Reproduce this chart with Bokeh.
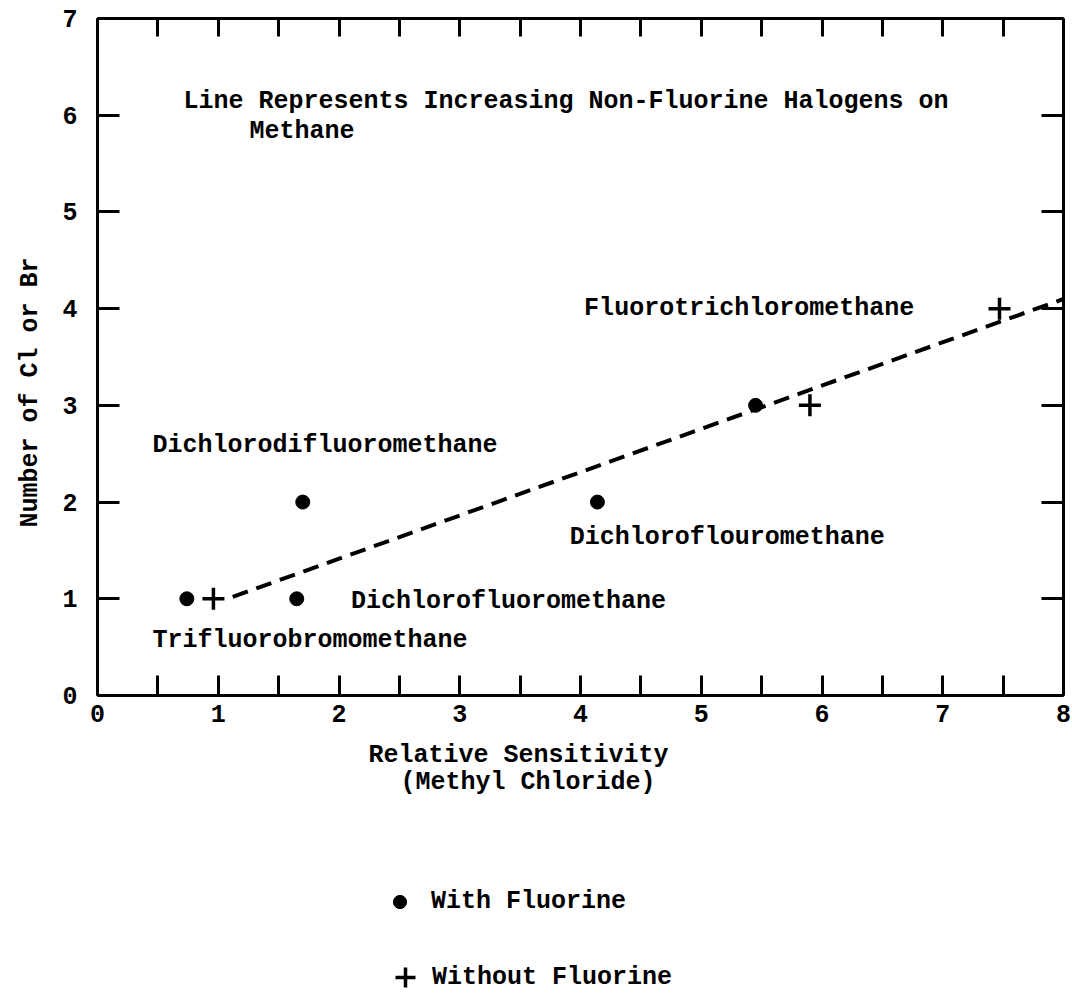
from bokeh.plotting import figure
from bokeh.layouts import column
from bokeh.models import Range1d, LinearAxis, FixedTicker, Label, Legend, LegendItem, Title
from bokeh.embed import file_html
from bokeh.resources import INLINE

# ---- data ----
x_ticks = [0, 1, 2, 3, 4, 5, 6, 7, 8]
x_minor_ticks = [0.5, 1.5, 2.5, 3.5, 4.5, 5.5, 6.5, 7.5]
x_all_ticks = [0, 0.5, 1, 1.5, 2, 2.5, 3, 3.5, 4, 4.5, 5, 5.5, 6, 6.5, 7, 7.5, 8]
y_ticks = [0, 1, 2, 3, 4, 5, 6, 7]

with_fluorine_x = [0.74, 1.65, 1.70, 4.14, 5.45]
with_fluorine_y = [1, 1, 2, 2, 3]
without_fluorine_x = [0.96, 5.90, 7.47]
without_fluorine_y = [1, 3, 4]
trend_x = [1.12, 8.0]
trend_y = [1.02, 4.10]

FONT = "Liberation Mono"
FS = "25px"
STYLE = "bold"

W = 1072
H_MAIN = 735
H_LEG = 261
FRAME_L = 97
FRAME_R = 1063

fig = figure(width=W, height=H_MAIN, x_range=Range1d(0, 8), y_range=Range1d(0, 7),
             output_backend="svg", toolbar_location=None,
             min_border_left=FRAME_L, min_border_right=W - FRAME_R, min_border_top=18,
             min_border_bottom=H_MAIN - 695)
fig.xgrid.visible = False
fig.ygrid.visible = False
fig.outline_line_color = None
fig.background_fill_color = "white"
fig.border_fill_color = "white"


def style_axis(ax, tick_in, minor_in=0, standoff=8):
    ax.axis_line_width = 3
    ax.axis_line_color = "black"
    ax.major_tick_in = tick_in
    ax.major_tick_out = 0
    ax.minor_tick_in = minor_in
    ax.minor_tick_out = 0
    ax.major_tick_line_width = 3
    ax.minor_tick_line_width = 3
    ax.major_tick_line_color = "black"
    ax.minor_tick_line_color = "black"
    ax.major_label_text_font = FONT
    ax.major_label_text_font_size = FS
    ax.major_label_text_font_style = STYLE
    ax.major_label_text_color = "black"
    ax.major_label_standoff = standoff


xb = fig.xaxis[0]
xb.ticker = FixedTicker(ticks=x_ticks, minor_ticks=x_minor_ticks)
style_axis(xb, 20, 20, 9)

yl = fig.yaxis[0]
yl.ticker = FixedTicker(ticks=y_ticks, minor_ticks=[])
style_axis(yl, 22, 0, 20)

# top and right axes: ticks only (drawn as minor ticks, so no labels)
xt = LinearAxis(ticker=FixedTicker(ticks=[], minor_ticks=x_all_ticks))
style_axis(xt, 18, 18, 0)
fig.add_layout(xt, "above")

yr = LinearAxis(ticker=FixedTicker(ticks=[], minor_ticks=y_ticks))
style_axis(yr, 22, 22, 0)
fig.add_layout(yr, "right")

# y-axis title
fig.add_layout(Title(text="Number of Cl or Br", align="left", offset=168, standoff=26,
                     vertical_align="top", text_font=FONT, text_font_size=FS,
                     text_font_style=STYLE, text_color="black"), "left")

# trend line
fig.line(trend_x, trend_y, line_color="black", line_width=4, line_dash="16 9")

fig.scatter(with_fluorine_x, with_fluorine_y, marker="circle", size=14,
            fill_color="black", line_color="black")
fig.scatter(without_fluorine_x, without_fluorine_y, marker="cross", size=22,
            line_color="black", line_width=3.5)


def add_label(target, x, y, text):
    target.add_layout(Label(x=x, y=y, text=text, text_font=FONT, text_font_size=FS,
                            text_font_style=STYLE, text_color="black",
                            text_align="left", text_baseline="middle"))


add_label(fig, 0.712, 6.14, "Line Represents Increasing Non-Fluorine Halogens on")
add_label(fig, 1.259, 5.83, "Methane")
add_label(fig, 4.03, 4.00, "Fluorotrichloromethane")
add_label(fig, 0.455, 2.585, "Dichlorodifluoromethane")
add_label(fig, 3.91, 1.63, "Dichloroflouromethane")
add_label(fig, 2.10, 0.97, "Dichlorofluoromethane")
add_label(fig, 0.455, 0.57, "Trifluorobromomethane")

# ---- lower panel: x-axis title and legend (page pixel coordinates) ----
leg = figure(width=W, height=H_LEG, x_range=Range1d(FRAME_L, FRAME_R), y_range=Range1d(0, H_LEG),
             output_backend="svg", toolbar_location=None,
             x_axis_location=None, y_axis_location=None,
             min_border_left=FRAME_L, min_border_right=W - FRAME_R,
             min_border_top=0, min_border_bottom=0)
leg.xgrid.visible = False
leg.ygrid.visible = False
leg.outline_line_color = None
leg.background_fill_color = "white"
leg.border_fill_color = "white"

add_label(leg, 368, 996 - 755, "Relative Sensitivity")
add_label(leg, 400, 996 - 782, "(Methyl Chloride)")

# legend samples take the series' styles; the series themselves are shown above
k_dots = leg.scatter(with_fluorine_x, with_fluorine_y, marker="circle", size=14,
                     fill_color="black", line_color="black", visible=False)
k_plus = leg.scatter(without_fluorine_x, without_fluorine_y, marker="cross", size=22,
                     line_color="black", line_width=3.5, visible=False)

common = dict(padding=0, margin=0, border_line_color=None, background_fill_alpha=0,
              label_text_font=FONT, label_text_font_size=FS, label_text_font_style=STYLE,
              label_text_color="black",
              label_height=30, spacing=0, inactive_fill_alpha=0, click_policy="none")
leg1 = Legend(items=[LegendItem(label="With Fluorine", renderers=[k_dots])],
              location=(383 - FRAME_L, 996 - 918), glyph_width=33, glyph_height=33,
              label_standoff=15, **common)
leg2 = Legend(items=[LegendItem(label="Without Fluorine", renderers=[k_plus])],
              location=(380 - FRAME_L, -6), glyph_width=50, glyph_height=50,
              label_standoff=2, **common)
leg.add_layout(leg1)
leg.add_layout(leg2)

p = column(fig, leg, spacing=0)

open("out.html", "w").write(file_html(p, INLINE))
